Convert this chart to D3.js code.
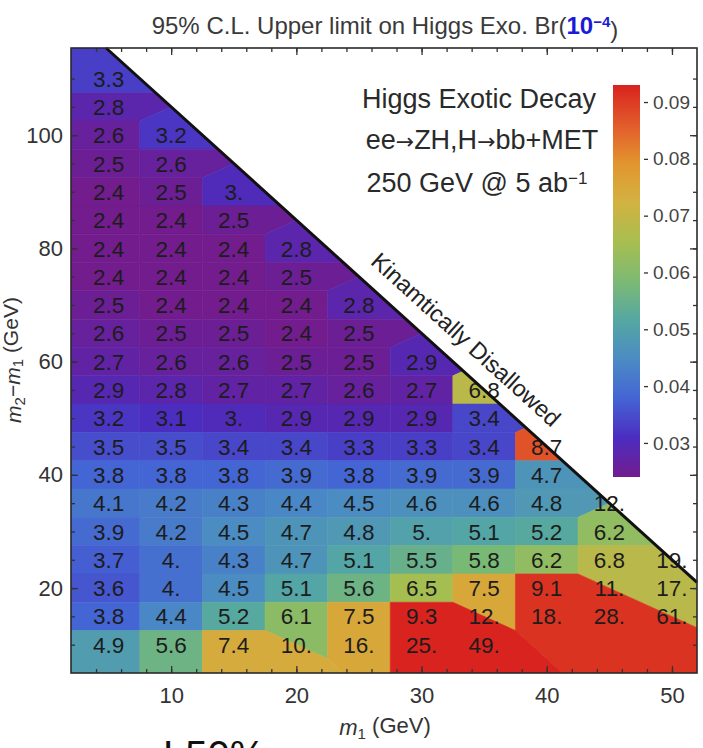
<!DOCTYPE html>
<html>
<head>
<meta charset="utf-8">
<script src="https://cdn.jsdelivr.net/npm/d3@7"></script>
<style>
  body { margin: 0; background: #fff; }
  svg text { font-family: "Liberation Sans", Arial, Helvetica, sans-serif; }
</style>
</head>
<body>
<div id="grafico"></div>
<script>
// masas (GeV): columnas en m1, filas en m2-m1
var m1Vals = [5, 10, 15, 20, 25, 30, 35, 40, 45, 50];
var dmVals = [110, 105, 100, 95, 90, 85, 80, 75, 70, 65, 60, 55, 50, 45, 40, 35, 30, 25, 20, 15, 10];

// limite superior 95% CL en Br (x 10^-4), una fila por valor de m2-m1, empezando en m1 = 5
var limites = [
  [3.3],
  [2.8],
  [2.6, 3.2],
  [2.5, 2.6],
  [2.4, 2.5, 3.0],
  [2.4, 2.4, 2.5],
  [2.4, 2.4, 2.4, 2.8],
  [2.4, 2.4, 2.4, 2.5],
  [2.5, 2.4, 2.4, 2.4, 2.8],
  [2.6, 2.5, 2.5, 2.4, 2.5],
  [2.7, 2.6, 2.6, 2.5, 2.5, 2.9],
  [2.9, 2.8, 2.7, 2.7, 2.6, 2.7, 6.8],
  [3.2, 3.1, 3.0, 2.9, 2.9, 2.9, 3.4],
  [3.5, 3.5, 3.4, 3.4, 3.3, 3.3, 3.4, 8.7],
  [3.8, 3.8, 3.8, 3.9, 3.8, 3.9, 3.9, 4.7],
  [4.1, 4.2, 4.3, 4.4, 4.5, 4.6, 4.6, 4.8, 12],
  [3.9, 4.2, 4.5, 4.7, 4.8, 5.0, 5.1, 5.2, 6.2],
  [3.7, 4.0, 4.3, 4.7, 5.1, 5.5, 5.8, 6.2, 6.8, 19],
  [3.6, 4.0, 4.5, 5.1, 5.6, 6.5, 7.5, 9.1, 11, 17],
  [3.8, 4.4, 5.2, 6.1, 7.5, 9.3, 12, 18, 28, 61],
  [4.9, 5.6, 7.4, 10, 16, 25, 49]
];

// ticks
var xMayores = [10, 20, 30, 40, 50];
var yMayores = [20, 40, 60, 80, 100];
var barraTicks = [0.03, 0.04, 0.05, 0.06, 0.07, 0.08, 0.09];

var mHiggs = 125;   // limite cinematico: m1 + m2 = mH
var corte = 10;     // solo los puntos por debajo de esto entran al mapa de color

// paleta tipo "Rainbow"
var colores = ["#721c8d", "#4b2dc0", "#4464d4", "#4b8bc4", "#55a7a2", "#7cba73",
               "#a8be50", "#d2b241", "#e2952f", "#e15a2b", "#d8231f"];

var width = 703, height = 748;
var x = d3.scaleLinear().domain([2, 52]).range([71, 697]);
var y = d3.scaleLinear().domain([5, 115.4]).range([673, 48]);

var svg = d3.select("#grafico").append("svg")
            .attr("width", width)
            .attr("height", height);

// puntos de la grilla
var puntos = [];
limites.forEach(function(fila, i){
  fila.forEach(function(v, j){
    puntos.push({m1: m1Vals[j], dm: dmVals[i], v: v});
  });
});
var campo = puntos.filter(function(d){ return d.v < corte; });

var rango = d3.extent(campo, function(d){ return d.v; });
var t = d3.scaleLinear().domain(rango).range([0, 1]).clamp(true);
var rainbow = d3.piecewise(d3.interpolateRgb, colores);
function color(v){ return rainbow(t(v)); }

// zona permitida (debajo de la diagonal)
var dx = x.domain(), dy = y.domain();
var xTop = (mHiggs - dy[1]) / 2;
var permitida = [[dx[0], dy[0]], [dx[0], dy[1]], [xTop, dy[1]], [dx[1], mHiggs - 2 * dx[1]], [dx[1], dy[0]]];

svg.append("clipPath").attr("id", "clipPermitida")
   .append("path")
   .attr("d", "M" + permitida.map(function(p){ return x(p[0]) + "," + y(p[1]); }).join("L") + "Z");

// celdas tipo vecino mas cercano (Voronoi en unidades de datos)
var voronoi = d3.Delaunay.from(campo, function(d){ return d.m1; }, function(d){ return d.dm; })
                .voronoi([dx[0], dy[0], dx[1], dy[1]]);

svg.append("g")
   .attr("clip-path", "url(#clipPermitida)")
   .selectAll("path")
   .data(campo)
   .enter()
   .append("path")
   .attr("d", function(d, i){
      var poly = voronoi.cellPolygon(i);
      return "M" + poly.map(function(p){ return x(p[0]) + "," + y(p[1]); }).join("L") + "Z";
   })
   .style("fill", function(d){ return color(d.v); })
   .style("stroke", function(d){ return color(d.v); })
   .style("stroke-width", 0.6);

// etiquetas con el valor de cada punto (formato 3. / 12.)
function fmt(v){ return Number.isInteger(v) ? v + "." : String(v); }

svg.append("g").selectAll("text")
   .data(puntos)
   .enter()
   .append("text")
   .attr("x", function(d){ return x(d.m1); })
   .attr("y", function(d){ return y(d.dm); })
   .attr("dy", "0.36em")
   .attr("text-anchor", "middle")
   .style("font-size", "22.5px")
   .style("fill", "#1c1c1c")
   .text(function(d){ return fmt(d.v); });

// linea diagonal
svg.append("line")
   .attr("x1", x(xTop)).attr("y1", y(dy[1]))
   .attr("x2", x(dx[1])).attr("y2", y(mHiggs - 2 * dx[1]))
   .style("stroke", "#111")
   .style("stroke-width", 3);

var ang = Math.atan2(y(mHiggs - 2 * 40) - y(mHiggs - 2 * 30), x(40) - x(30));
var m1c = 32.2;
var off = 17;
svg.append("text")
   .attr("transform", "translate(" + (x(m1c) + off * Math.sin(ang)) + "," + (y(mHiggs - 2 * m1c) - off * Math.cos(ang)) + ") rotate(" + (ang * 180 / Math.PI) + ")")
   .attr("text-anchor", "middle")
   .style("font-size", "23.5px")
   .style("fill", "#222")
   .text("Kinamtically Disallowed");

// ejes con ticks hacia adentro
function estiloEje(g){
  g.select(".domain").remove();
  g.selectAll(".tick line").style("stroke", "#333").style("stroke-width", 1.3);
  g.selectAll(".tick text").style("font-size", "22px").style("fill", "#333")
   .style("font-family", "'Liberation Sans', Arial, sans-serif");
}

var xMenores = d3.range(4, 52, 2);
var yMenores = d3.range(10, 115, 5);

svg.append("g").attr("transform", "translate(0,673)")
   .call(d3.axisBottom(x).tickValues(xMenores).tickSize(-4).tickFormat(""))
   .call(estiloEje);
svg.append("g").attr("transform", "translate(0,673)")
   .call(d3.axisBottom(x).tickValues(xMayores).tickSize(-7).tickPadding(14))
   .call(estiloEje);
svg.append("g").attr("transform", "translate(0,48)")
   .call(d3.axisTop(x).tickValues(xMenores).tickSize(-4).tickFormat(""))
   .call(estiloEje);
svg.append("g").attr("transform", "translate(0,48)")
   .call(d3.axisTop(x).tickValues(xMayores).tickSize(-7).tickFormat(""))
   .call(estiloEje);

svg.append("g").attr("transform", "translate(71,0)")
   .call(d3.axisLeft(y).tickValues(yMenores).tickSize(-4).tickFormat(""))
   .call(estiloEje);
svg.append("g").attr("transform", "translate(71,0)")
   .call(d3.axisLeft(y).tickValues(yMayores).tickSize(-7).tickPadding(8))
   .call(estiloEje);
svg.append("g").attr("transform", "translate(697,0)")
   .call(d3.axisRight(y).tickValues(yMenores).tickSize(-4).tickFormat(""))
   .call(estiloEje);
svg.append("g").attr("transform", "translate(697,0)")
   .call(d3.axisRight(y).tickValues(yMayores).tickSize(-7).tickFormat(""))
   .call(estiloEje);

// marco
svg.append("rect")
   .attr("x", 71).attr("y", 48)
   .attr("width", 697 - 71).attr("height", 673 - 48)
   .style("fill", "none")
   .style("stroke", "#2a2a2a")
   .style("stroke-width", 1.6);

// barra de color
var yBarra = d3.scaleLinear().domain([rango[0] / 100, rango[1] / 100]).range([477, 85]);
var grad = svg.append("defs").append("linearGradient")
              .attr("id", "gradBarra")
              .attr("x1", 0).attr("y1", 1).attr("x2", 0).attr("y2", 0);
grad.selectAll("stop")
    .data(d3.range(0, 1.0001, 0.05))
    .enter()
    .append("stop")
    .attr("offset", function(d){ return d; })
    .attr("stop-color", function(d){ return rainbow(d); });

svg.append("rect")
   .attr("x", 613).attr("y", 85)
   .attr("width", 27).attr("height", 392)
   .style("fill", "url(#gradBarra)");

svg.append("g").attr("transform", "translate(644,0)")
   .call(d3.axisRight(yBarra).tickValues(barraTicks).tickSize(4).tickPadding(5).tickFormat(d3.format(".2f")))
   .call(estiloEje)
   .selectAll(".tick text").style("font-size", "19px").style("fill", "#444");

// leyenda
var leyenda = svg.append("g").attr("text-anchor", "middle").style("font-size", "27px").style("fill", "#2a2a2a");
leyenda.append("text").attr("x", 479).attr("y", 108).text("Higgs Exotic Decay");
var l2 = leyenda.append("text").attr("x", 482).attr("y", 149);
l2.append("tspan").text("ee");
l2.append("tspan").style("font-family", "'DejaVu Sans', sans-serif").style("font-size", "22px").text("\u2192");
l2.append("tspan").text("ZH,H");
l2.append("tspan").style("font-family", "'DejaVu Sans', sans-serif").style("font-size", "22px").text("\u2192");
l2.append("tspan").text("bb+MET");
var l3 = leyenda.append("text").attr("x", 477).attr("y", 192);
l3.append("tspan").text("250 GeV @ 5 ab");
l3.append("tspan").attr("dy", "-0.45em").style("font-size", "17px").text("\u22121");

// titulo
var titulo = svg.append("text")
   .attr("x", 385).attr("y", 34)
   .attr("text-anchor", "middle")
   .style("font-size", "24px")
   .style("fill", "#3a3a3a");
titulo.append("tspan").text("95% C.L. Upper limit on Higgs Exo. Br(");
titulo.append("tspan").style("fill", "#1a1ad8").style("font-weight", "bold").text("10");
titulo.append("tspan").attr("dy", "-0.45em").style("fill", "#1a1ad8").style("font-weight", "bold").style("font-size", "15px").text("\u22124");
titulo.append("tspan").attr("dy", "0.45em").text(")");

// titulos de ejes
var xt = svg.append("text")
   .attr("x", 385).attr("y", 735)
   .attr("text-anchor", "middle")
   .style("font-size", "22px")
   .style("fill", "#333");
xt.append("tspan").style("font-style", "italic").text("m");
xt.append("tspan").attr("dy", "0.25em").style("font-size", "15px").text("1");
xt.append("tspan").attr("dy", "-0.25em").text(" (GeV)");

var yt = svg.append("text")
   .attr("transform", "translate(21,360) rotate(-90)")
   .attr("text-anchor", "middle")
   .style("font-size", "21px")
   .style("fill", "#333");
yt.append("tspan").style("font-style", "italic").text("m");
yt.append("tspan").attr("dy", "0.25em").style("font-size", "15px").text("2");
yt.append("tspan").attr("dy", "-0.25em").text("\u2212");
yt.append("tspan").style("font-style", "italic").text("m");
yt.append("tspan").attr("dy", "0.25em").style("font-size", "15px").text("1");
yt.append("tspan").attr("dy", "-0.25em").text(" (GeV)");

// texto de la diapositiva debajo
svg.append("text")
   .attr("x", 163).attr("y", 769)
   .style("font-size", "40px")
   .style("fill", "#111")
   .text("L50%");
</script>
</body>
</html>
